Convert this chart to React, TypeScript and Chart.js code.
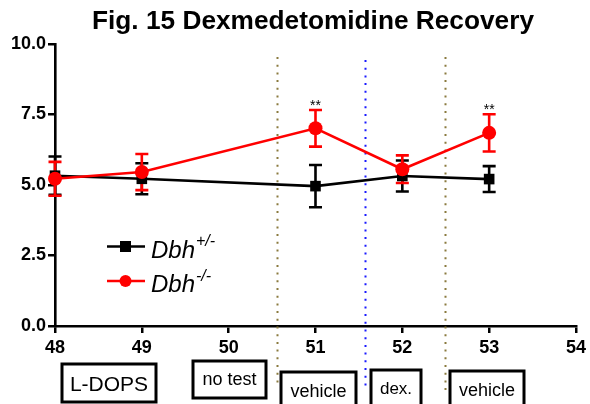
import React, { useEffect, useRef } from "react";
import { Chart, registerables } from "chart.js";

Chart.register(...registerables);

const title = "Fig. 15 Dexmedetomidine Recovery";
const weeks = [48, 49, 51, 52, 53];
const hetMean = [5.33, 5.22, 4.96, 5.32, 5.21];
const hetSem = [0.68, 0.55, 0.75, 0.55, 0.46];
const koMean = [5.22, 5.46, 7.01, 5.56, 6.85];
const koSem = [0.6, 0.64, 0.65, 0.49, 0.66];
const koSignif = ["", "", "**", "", "**"];
const hetName = "+/-";
const koName = "-/-";
const phaseLines = [50.553, 51.57, 52.488];
const phaseColors = ["#8a7a3e", "#1a1aff", "#8a7a3e"];
const treatLabels = ["L-DOPS", "no test", "vehicle", "dex.", "vehicle"];

const FONT = "'Liberation Sans', Arial, Helvetica, sans-serif";

// pixel layout of annotation boxes (x0, x1, y0, y1, fontSize, textY)
const boxLayout = [
  [62, 156, 364, 402, 21, 385],
  [193, 266, 361, 398, 18, 380],
  [281, 356, 372, 408, 18, 392],
  [371, 421, 370, 408, 17, 389],
  [450, 524, 371, 408, 18, 391],
];
const lineExtents = [
  [57, 387],
  [60, 390],
  [57, 390],
];

const overlayPlugin = {
  id: "overlay",
  beforeDatasetsDraw(chart: any) {
    const ctx = chart.ctx;
    const xs = chart.scales.x;
    const ys = chart.scales.y;
    phaseLines.forEach((v, i) => {
      const px = Math.round(xs.getPixelForValue(v)) + 0.5;
      ctx.save();
      ctx.strokeStyle = phaseColors[i];
      ctx.lineWidth = 2;
      ctx.setLineDash([2, 5.7]);
      ctx.beginPath();
      ctx.moveTo(px, lineExtents[i][0]);
      ctx.lineTo(px, lineExtents[i][1]);
      ctx.stroke();
      ctx.restore();
    });
    const drawErr = (means: number[], sems: number[], color: string) => {
      ctx.save();
      ctx.strokeStyle = color;
      ctx.lineWidth = 2.6;
      means.forEach((m, i) => {
        const x = xs.getPixelForValue(weeks[i]);
        const yt = ys.getPixelForValue(m + sems[i]);
        const yb = ys.getPixelForValue(m - sems[i]);
        ctx.beginPath();
        ctx.moveTo(x, yt);
        ctx.lineTo(x, yb);
        ctx.moveTo(x - 6.5, yt);
        ctx.lineTo(x + 6.5, yt);
        ctx.moveTo(x - 6.5, yb);
        ctx.lineTo(x + 6.5, yb);
        ctx.stroke();
      });
      ctx.restore();
    };
    drawErr(hetMean, hetSem, "#000000");
    drawErr(koMean, koSem, "#ff0000");
  },
  afterDraw(chart: any) {
    const ctx = chart.ctx;
    const xs = chart.scales.x;
    const ys = chart.scales.y;
    // title
    ctx.save();
    ctx.font = `bold 25px ${FONT}`;
    const w = ctx.measureText(title).width;
    const target = 442;
    ctx.translate(313, 29);
    ctx.scale(target / w, 1);
    ctx.fillStyle = "#000";
    ctx.textAlign = "center";
    ctx.textBaseline = "alphabetic";
    ctx.fillText(title, 0, 0);
    ctx.restore();
    // significance marks
    ctx.save();
    ctx.fillStyle = "#000";
    ctx.font = `14px ${FONT}`;
    ctx.textAlign = "center";
    ctx.textBaseline = "alphabetic";
    koSignif.forEach((s, i) => {
      if (!s) return;
      const x = xs.getPixelForValue(weeks[i]);
      const y = ys.getPixelForValue(koMean[i] + koSem[i]);
      ctx.fillText(s, x, y);
    });
    ctx.restore();
    // legend
    const legendRows = [
      { color: "#000", name: hetName, y: 246.5, shape: "square" },
      { color: "#ff0000", name: koName, y: 281, shape: "circle" },
    ];
    legendRows.forEach((r) => {
      ctx.save();
      ctx.strokeStyle = r.color;
      ctx.fillStyle = r.color;
      ctx.lineWidth = 2.6;
      ctx.beginPath();
      ctx.moveTo(107, r.y);
      ctx.lineTo(145, r.y);
      ctx.stroke();
      if (r.shape === "square") {
        ctx.fillRect(120, r.y - 5.5, 11, 11);
      } else {
        ctx.beginPath();
        ctx.arc(125.5, r.y, 6, 0, Math.PI * 2);
        ctx.fill();
      }
      ctx.fillStyle = "#000";
      ctx.font = `italic 24px ${FONT}`;
      ctx.textBaseline = "alphabetic";
      ctx.fillText("Dbh", 151, r.y + 11);
      const bw = ctx.measureText("Dbh").width;
      ctx.font = `italic 16px ${FONT}`;
      ctx.fillText(r.name, 151 + bw + 1, r.y - 0.5);
      ctx.restore();
    });
    // treatment boxes
    treatLabels.forEach((t, i) => {
      const [x0, x1, y0, y1, fs, ty] = boxLayout[i];
      ctx.save();
      ctx.fillStyle = "#fff";
      ctx.fillRect(x0, y0, x1 - x0, y1 - y0);
      ctx.strokeStyle = "#000";
      ctx.lineWidth = 3;
      ctx.strokeRect(x0, y0, x1 - x0, y1 - y0);
      ctx.fillStyle = "#000";
      ctx.font = `${fs}px ${FONT}`;
      ctx.textAlign = "center";
      ctx.textBaseline = "middle";
      ctx.fillText(t, (x0 + x1) / 2, ty);
      ctx.restore();
    });
  },
};

export default function App() {
  const ref = useRef<HTMLCanvasElement | null>(null);
  useEffect(() => {
    if (!ref.current) return;
    const chart = new Chart(ref.current, {
      type: "line",
      data: {
        datasets: [
          {
            label: "Dbh-/-",
            data: weeks.map((w, i) => ({ x: w, y: koMean[i] })),
            borderColor: "#ff0000",
            backgroundColor: "#ff0000",
            borderWidth: 2.6,
            pointStyle: "circle",
            pointRadius: 7,
            pointBorderWidth: 0,
            tension: 0,
            order: 0,
          },
          {
            label: "Dbh+/-",
            data: weeks.map((w, i) => ({ x: w, y: hetMean[i] })),
            borderColor: "#000000",
            backgroundColor: "#000000",
            borderWidth: 2.6,
            pointStyle: "rect",
            pointRadius: 7.5,
            pointBorderWidth: 0,
            tension: 0,
            order: 1,
          },
        ],
      },
      options: {
        animation: false,
        responsive: false,
        clip: false as any,
        layout: { padding: { top: 44, right: 14, left: 0, bottom: 0 } },
        plugins: {
          legend: { display: false },
          tooltip: { enabled: false },
          title: { display: false },
        },
        scales: {
          x: {
            type: "linear",
            min: 48,
            max: 54,
            ticks: {
              stepSize: 1,
              color: "#000",
              font: { family: FONT, size: 18, weight: "bold" },
              padding: 4,
            },
            grid: {
              drawOnChartArea: false,
              drawTicks: true,
              tickLength: 7,
              color: "#000",
              lineWidth: 2.5,
            },
            border: { color: "#000", width: 2.6 },
            afterFit: (s: any) => {
              s.height = 78;
            },
          },
          y: {
            type: "linear",
            min: 0,
            max: 10,
            ticks: {
              stepSize: 2.5,
              color: "#000",
              font: { family: FONT, size: 18, weight: "bold" },
              padding: 2,
              callback: (v: any) => Number(v).toFixed(1),
            },
            grid: {
              drawOnChartArea: false,
              drawTicks: true,
              tickLength: 7,
              color: "#000",
              lineWidth: 2.5,
            },
            border: { color: "#000", width: 2.6 },
            afterFit: (s: any) => {
              s.width = 55;
            },
          },
        },
      },
      plugins: [overlayPlugin],
    });
    return () => chart.destroy();
  }, []);
  return (
    <div style={{ position: "absolute", left: 0, top: 0, width: 590, height: 404, background: "#fff" }}>
      <canvas ref={ref} width={590} height={404} />
    </div>
  );
}
